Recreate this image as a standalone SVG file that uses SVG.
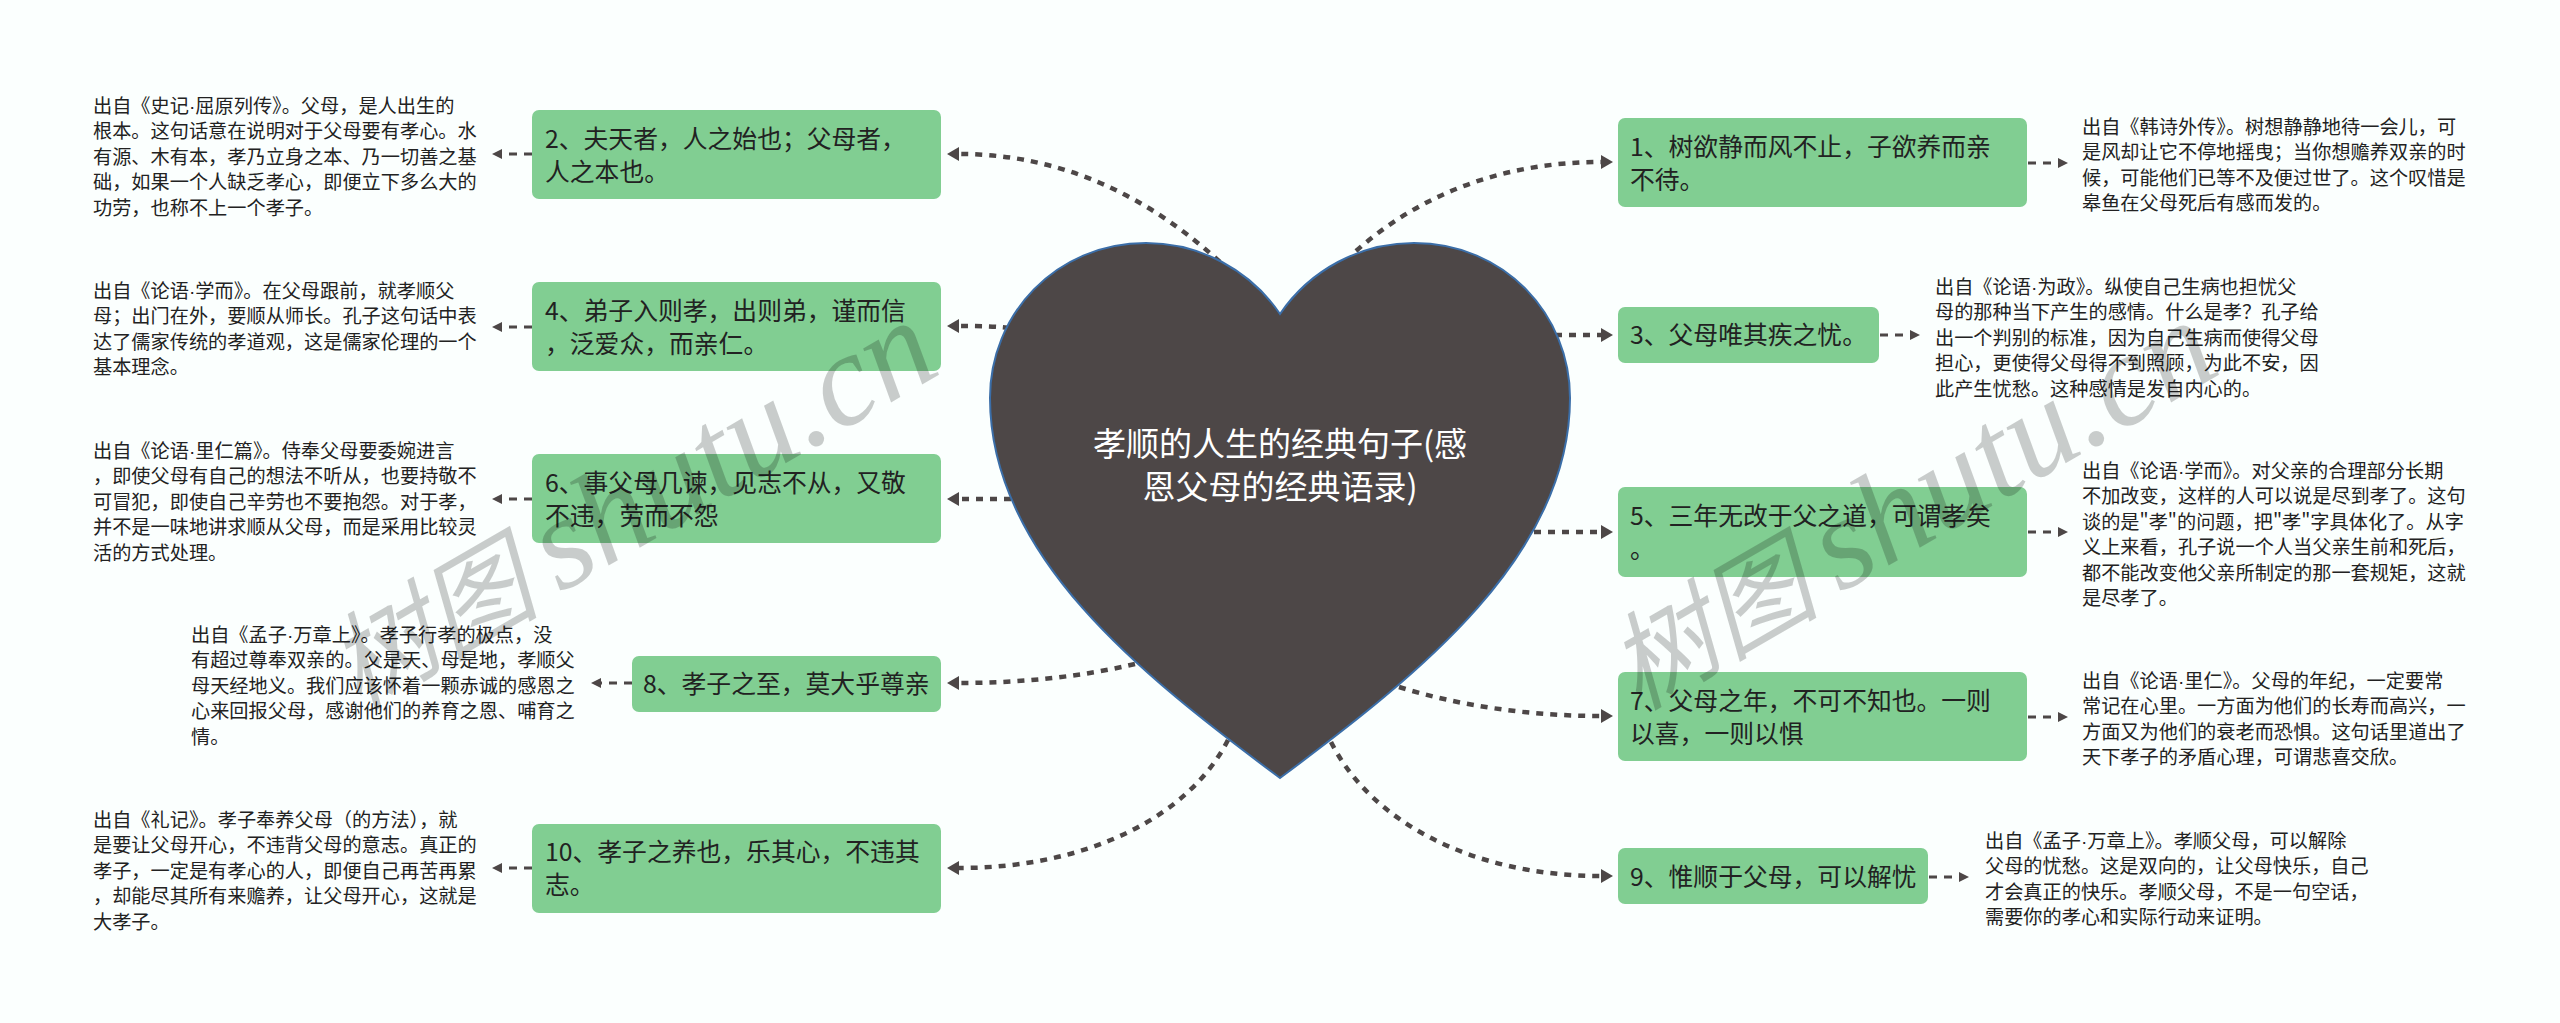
<svg xmlns="http://www.w3.org/2000/svg" width="2560" height="1023" viewBox="0 0 2560 1023" lang="zh-CN">
<style>
text{font-family:"Noto Sans CJK SC","Noto Sans",sans-serif}
.n{fill:#81ce92}
.t{font-size:24.8px;fill:#222}
.s{font-size:19.2px;fill:#222}
.d{font-family:"Liberation Sans",sans-serif}
.c{font-size:33px;fill:#fff;text-anchor:middle}
.big{fill:none;stroke:#4d4747;stroke-width:4.5;stroke-dasharray:7 7;marker-end:url(#ab)}
.sm{fill:none;stroke:#4d4747;stroke-width:3;stroke-dasharray:8 7;marker-end:url(#as)}
.wm{font-family:"Liberation Serif","Noto Sans CJK SC",serif;font-style:italic;font-size:132px;fill:#000;fill-opacity:.2}
.wc{font-size:106px}
</style>
<defs>
<marker id="ab" markerUnits="userSpaceOnUse" markerWidth="14" markerHeight="16" refX="0" refY="7" orient="auto"><path d="M0,0L12,7L0,14Z" fill="#4d4747"/></marker>
<marker id="as" markerUnits="userSpaceOnUse" markerWidth="12" markerHeight="12" refX="0" refY="5" orient="auto"><path d="M0,0L10,5L0,10Z" fill="#4d4747"/></marker>
</defs>
<rect width="2560" height="1023" fill="#fbfffe"/>
<g id="connectors">
<path class="big" d="M1220,262C1130,180 1040,154 959,154"/>
<path class="big" d="M1010,328C990,326 975,326 959,326"/>
<path class="big" d="M1025,499L959,499"/>
<path class="big" d="M1135,664C1080,677 1020,683 959,683"/>
<path class="big" d="M1228,740C1190,815 1090,868 959,868"/>
<path class="big" d="M1356,251C1425,190 1510,162 1601,162"/>
<path class="big" d="M1555,335L1601,335"/>
<path class="big" d="M1520,532L1601,532"/>
<path class="big" d="M1399,687C1460,706 1530,716 1601,716"/>
<path class="big" d="M1331,742C1370,820 1470,876 1601,876"/>
<path class="sm" d="M532,154L502,154"/>
<path class="sm" d="M532,327L502,327"/>
<path class="sm" d="M532,499L502,499"/>
<path class="sm" d="M632,683L601,683"/>
<path class="sm" d="M532,868L502,868"/>
<path class="sm" d="M2028,163L2058,163"/>
<path class="sm" d="M1880,335L1910,335"/>
<path class="sm" d="M2028,532L2058,532"/>
<path class="sm" d="M2028,717L2058,717"/>
<path class="sm" d="M1929,877L1959,877"/>
</g>
<g id="root">
<path d="M1280,314C1310,270 1360,243 1414,243C1505,243 1570,315 1570,398C1570,555 1420,674 1280,778C1140,674 990,555 990,398C990,315 1055,243 1146,243C1200,243 1250,270 1280,314Z" fill="#4d4747" stroke="#3b6ea8" stroke-width="2"/>
<text class="c" x="1280" y="456">孝顺的人生的经典句子(感</text>
<text class="c" x="1280" y="499">恩父母的经典语录)</text>
</g>
<g id="node2"><rect class="n" x="532" y="110" width="409" height="89" rx="7"/>
<text class="t" x="545" y="148">2、夫天者，人之始也；父母者，</text><text class="t" x="545" y="181">人之本也。</text></g>
<g id="note2"><text class="s" x="93" y="113">出自《史记<tspan class="d">·</tspan>屈原列传》。父母，是人出生的</text><text class="s" x="93" y="138.4">根本。这句话意在说明对于父母要有孝心。水</text><text class="s" x="93" y="163.8">有源、木有本，孝乃立身之本、乃一切善之基</text><text class="s" x="93" y="189.2">础，如果一个人缺乏孝心，即便立下多么大的</text><text class="s" x="93" y="214.6">功劳，也称不上一个孝子。</text></g>
<g id="node4"><rect class="n" x="532" y="282" width="409" height="89" rx="7"/>
<text class="t" x="545" y="320">4、弟子入则孝，出则弟，谨而信</text><text class="t" x="545" y="353">，泛爱众，而亲仁。</text></g>
<g id="note4"><text class="s" x="93" y="298">出自《论语<tspan class="d">·</tspan>学而》。在父母跟前，就孝顺父</text><text class="s" x="93" y="323.4">母；出门在外，要顺从师长。孔子这句话中表</text><text class="s" x="93" y="348.8">达了儒家传统的孝道观，这是儒家伦理的一个</text><text class="s" x="93" y="374.2">基本理念。</text></g>
<g id="node6"><rect class="n" x="532" y="454" width="409" height="89" rx="7"/>
<text class="t" x="545" y="492">6、事父母几谏，见志不从，又敬</text><text class="t" x="545" y="525">不违，劳而不怨</text></g>
<g id="note6"><text class="s" x="93" y="458">出自《论语<tspan class="d">·</tspan>里仁篇》。侍奉父母要委婉进言</text><text class="s" x="93" y="483.4">，即使父母有自己的想法不听从，也要持敬不</text><text class="s" x="93" y="508.8">可冒犯，即使自己辛劳也不要抱怨。对于孝，</text><text class="s" x="93" y="534.2">并不是一味地讲求顺从父母，而是采用比较灵</text><text class="s" x="93" y="559.6">活的方式处理。</text></g>
<g id="node8"><rect class="n" x="632" y="656" width="309" height="56" rx="7"/>
<text class="t" x="643" y="693">8、孝子之至，莫大乎尊亲</text></g>
<g id="note8"><text class="s" x="191" y="642">出自《孟子<tspan class="d">·</tspan>万章上》。孝子行孝的极点，没</text><text class="s" x="191" y="667.4">有超过尊奉双亲的。父是天、母是地，孝顺父</text><text class="s" x="191" y="692.8">母天经地义。我们应该怀着一颗赤诚的感恩之</text><text class="s" x="191" y="718.2">心来回报父母，感谢他们的养育之恩、哺育之</text><text class="s" x="191" y="743.6">情。</text></g>
<g id="node10"><rect class="n" x="532" y="824" width="409" height="89" rx="7"/>
<text class="t" x="545" y="861">10、孝子之养也，乐其心，不违其</text><text class="t" x="545" y="894">志。</text></g>
<g id="note10"><text class="s" x="93" y="827">出自《礼记》。孝子奉养父母（的方法），就</text><text class="s" x="93" y="852.4">是要让父母开心，不违背父母的意志。真正的</text><text class="s" x="93" y="877.8">孝子，一定是有孝心的人，即便自己再苦再累</text><text class="s" x="93" y="903.2">，却能尽其所有来赡养，让父母开心，这就是</text><text class="s" x="93" y="928.6">大孝子。</text></g>
<g id="node1"><rect class="n" x="1618" y="118" width="409" height="89" rx="7"/>
<text class="t" x="1630" y="156">1、树欲静而风不止，子欲养而亲</text><text class="t" x="1630" y="189">不待。</text></g>
<g id="note1"><text class="s" x="2082" y="134">出自《韩诗外传》。树想静静地待一会儿，可</text><text class="s" x="2082" y="159.4">是风却让它不停地摇曳；当你想赡养双亲的时</text><text class="s" x="2082" y="184.8">候，可能他们已等不及便过世了。这个叹惜是</text><text class="s" x="2082" y="210.2">皋鱼在父母死后有感而发的。</text></g>
<g id="node3"><rect class="n" x="1618" y="307" width="261" height="56" rx="7"/>
<text class="t" x="1630" y="344">3、父母唯其疾之忧。</text></g>
<g id="note3"><text class="s" x="1935" y="294">出自《论语<tspan class="d">·</tspan>为政》。纵使自己生病也担忧父</text><text class="s" x="1935" y="319.4">母的那种当下产生的感情。什么是孝？孔子给</text><text class="s" x="1935" y="344.8">出一个判别的标准，因为自己生病而使得父母</text><text class="s" x="1935" y="370.2">担心，更使得父母得不到照顾，为此不安，因</text><text class="s" x="1935" y="395.6">此产生忧愁。这种感情是发自内心的。</text></g>
<g id="node5"><rect class="n" x="1618" y="487" width="409" height="90" rx="7"/>
<text class="t" x="1630" y="525">5、三年无改于父之道，可谓孝矣</text><text class="t" x="1630" y="558">。</text></g>
<g id="note5"><text class="s" x="2082" y="478">出自《论语<tspan class="d">·</tspan>学而》。对父亲的合理部分长期</text><text class="s" x="2082" y="503.4">不加改变，这样的人可以说是尽到孝了。这句</text><text class="s" x="2082" y="528.8">谈的是"孝"的问题，把"孝"字具体化了。从字</text><text class="s" x="2082" y="554.2">义上来看，孔子说一个人当父亲生前和死后，</text><text class="s" x="2082" y="579.6">都不能改变他父亲所制定的那一套规矩，这就</text><text class="s" x="2082" y="605">是尽孝了。</text></g>
<g id="node7"><rect class="n" x="1618" y="672" width="409" height="89" rx="7"/>
<text class="t" x="1630" y="710">7、父母之年，不可不知也。一则</text><text class="t" x="1630" y="743">以喜，一则以惧</text></g>
<g id="note7"><text class="s" x="2082" y="688">出自《论语<tspan class="d">·</tspan>里仁》。父母的年纪，一定要常</text><text class="s" x="2082" y="713.4">常记在心里。一方面为他们的长寿而高兴，一</text><text class="s" x="2082" y="738.8">方面又为他们的衰老而恐惧。这句话里道出了</text><text class="s" x="2082" y="764.2">天下孝子的矛盾心理，可谓悲喜交欣。</text></g>
<g id="node9"><rect class="n" x="1618" y="848" width="310" height="56" rx="7"/>
<text class="t" x="1630" y="886">9、惟顺于父母，可以解忧</text></g>
<g id="note9"><text class="s" x="1985" y="848">出自《孟子<tspan class="d">·</tspan>万章上》。孝顺父母，可以解除</text><text class="s" x="1985" y="873.4">父母的忧愁。这是双向的，让父母快乐，自己</text><text class="s" x="1985" y="898.8">才会真正的快乐。孝顺父母，不是一句空话，</text><text class="s" x="1985" y="924.2">需要你的孝心和实际行动来证明。</text></g>
<g id="watermark">
<text class="wm wc" transform="translate(358,711) rotate(-30)">树图</text>
<text class="wm" transform="translate(560,593.6) rotate(-30)">shutu.cn</text>
<text class="wm wc" transform="translate(1638,711) rotate(-30)">树图</text>
<text class="wm" transform="translate(1840,593.6) rotate(-30)">shutu.cn</text>
</g>
</svg>
